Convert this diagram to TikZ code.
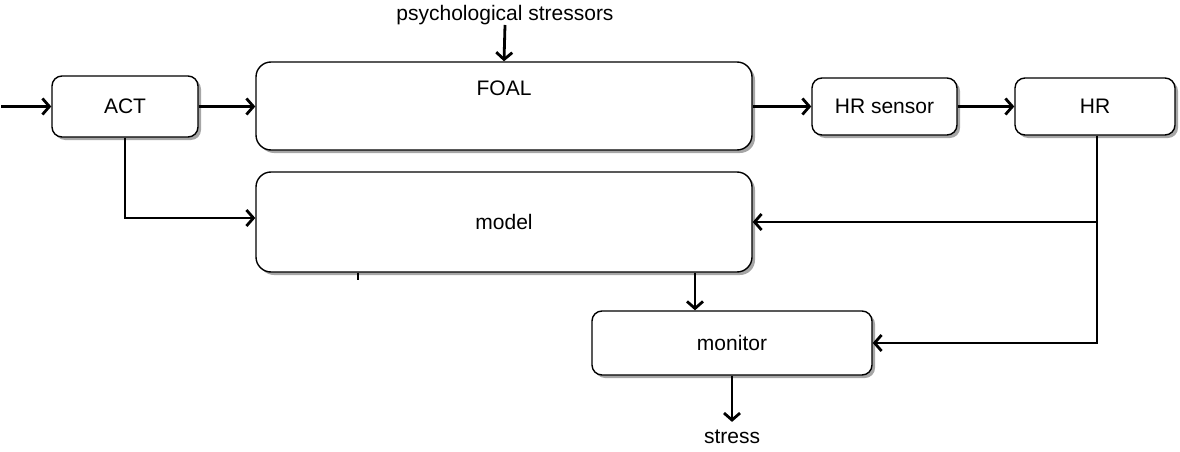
\documentclass[tikz,border=0pt]{standalone}
\usepackage{fontspec}
\setmainfont{Liberation Sans}
\usetikzlibrary{arrows.meta,shadows}
\begin{document}
\begin{tikzpicture}[x=1pt,y=-1pt,
  box/.style={draw, line width=1.4pt, rounded corners=10pt, fill=white,
    font=\fontsize{21}{25}\selectfont, inner sep=0pt,
    drop shadow={shadow xshift=3pt, shadow yshift=-3pt, fill=black!35, opacity=1}},
  conn/.style={line width=2.8pt, -{Straight Barb[length=7pt,width=16pt]}},
  lbl/.style={font=\fontsize{21}{25}\selectfont, inner sep=0pt}]
\useasboundingbox (0,0) rectangle (1180,452);
\node[box, minimum width=146pt, minimum height=61pt] (ACT) at (125,106.5) {ACT};
\node[box, rounded corners=15pt, minimum width=496pt, minimum height=88pt,
  label={[lbl, yshift=18pt]center:FOAL}] (FOAL) at (504,106) {};
\node[box, minimum width=145pt, minimum height=57pt] (HRS) at (884.5,106.5) {HR sensor};
\node[box, minimum width=160pt, minimum height=57pt] (HR) at (1095,106.5) {HR};
\node[box, rounded corners=15pt, minimum width=496pt, minimum height=100pt] (model) at (504,222) {model};
\node[box, minimum width=280pt, minimum height=64pt] (monitor) at (732,343) {monitor};
\node[lbl] (psy) at (505,15) {psychological stressors};
\node[lbl] (stress) at (732,437) {stress};
\coordinate (in) at (1,106.5);
\draw[conn] (in) -- (ACT.west);
\draw[conn] (ACT.east) -- (ACT.east -| FOAL.west);
\draw[conn] (psy.south) -- (FOAL.north);
\draw[conn] (FOAL.east |- HRS.west) -- (HRS.west);
\draw[conn] (HRS.east) -- (HR.west);
\draw[conn] (ACT.south) |- ([yshift=4pt]model.west);
\draw[conn] ([xshift=2pt]HR.south) |- (model.east);
\draw[conn] ([xshift=2pt]HR.south) |- (monitor.east);
\draw[conn] ([xshift=-37pt]monitor.north |- model.south) -- ([xshift=-37pt]monitor.north);
\draw[conn] (monitor.south) -- ([yshift=8pt]stress.north);
\draw[line width=2pt] ([xshift=-146pt]model.south) -- ++(0,7);
\end{tikzpicture}
\end{document}
